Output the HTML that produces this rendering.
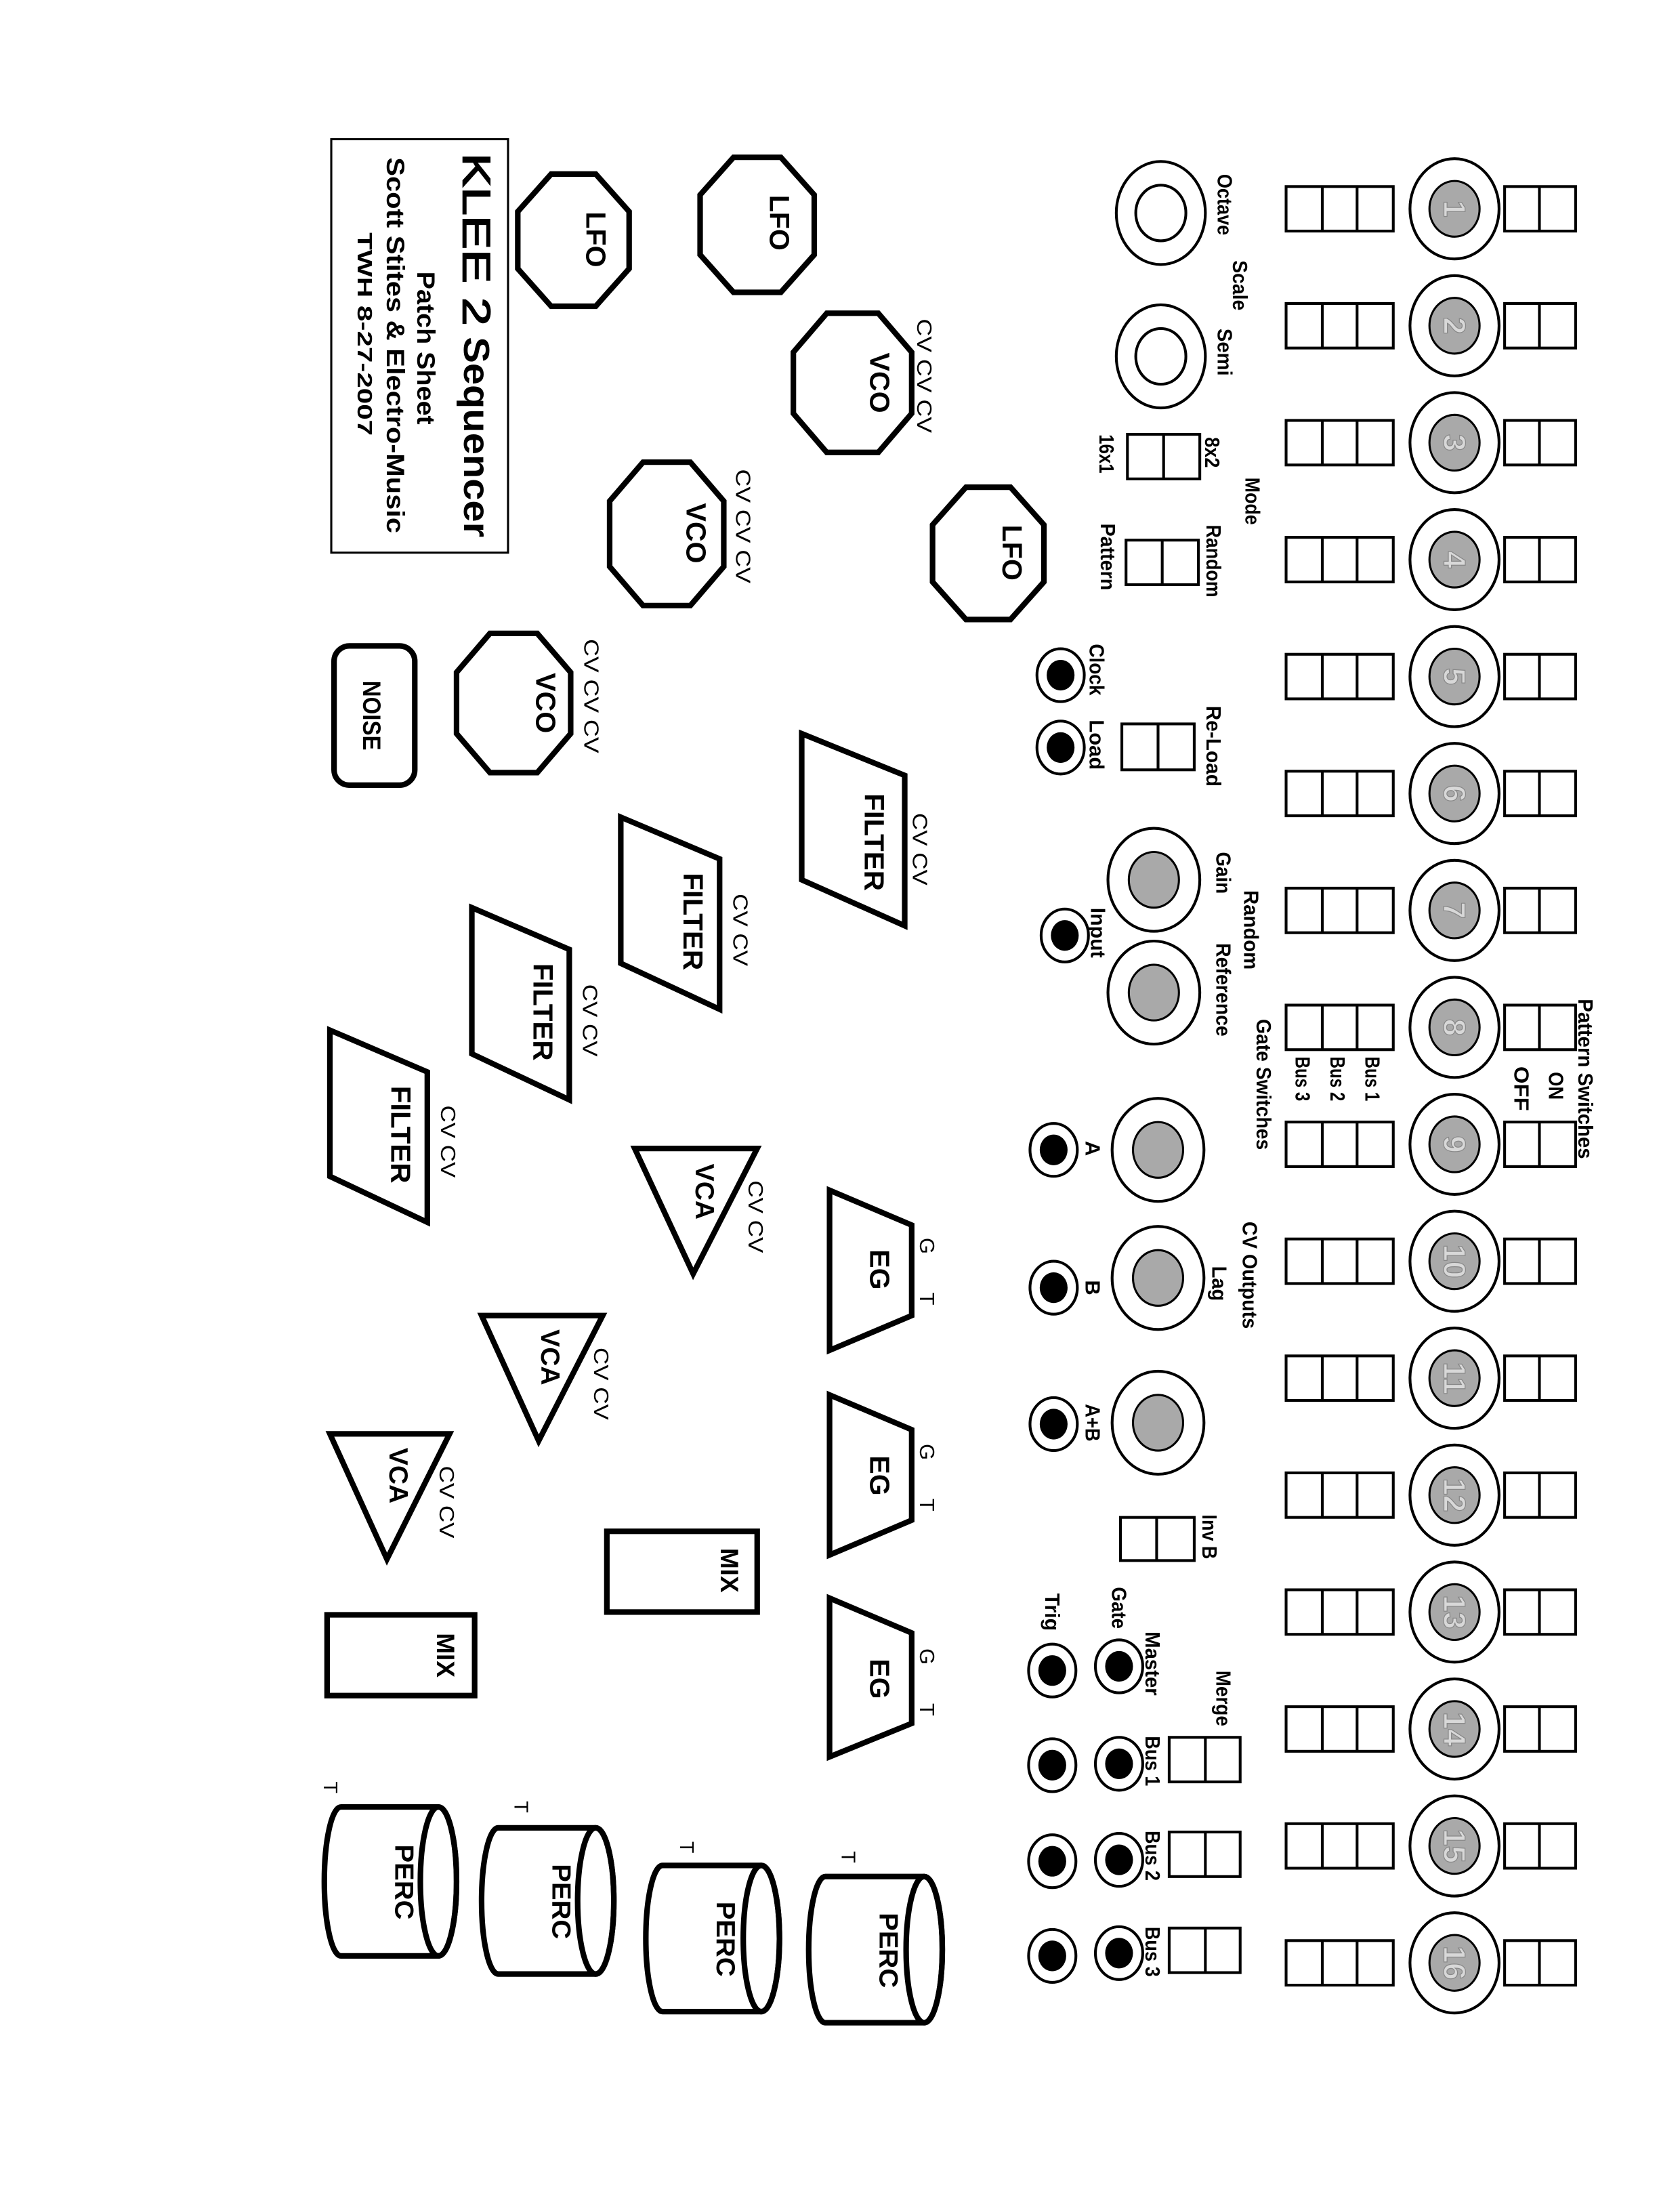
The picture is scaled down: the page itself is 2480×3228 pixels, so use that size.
<!DOCTYPE html>
<html><head><meta charset="utf-8"><style>
html,body{margin:0;padding:0;background:#fff}
svg{display:block}
text{font-family:"Liberation Sans",Arial,sans-serif;font-weight:bold;text-anchor:middle;dominant-baseline:central;fill:#000}
.n{font-weight:normal}
.s{fill:none;stroke:#000;stroke-width:2}
.k{fill:none;stroke:#000;stroke-width:4;stroke-linejoin:miter}
.g{fill:#a9a9a9;stroke:#000;stroke-width:1.5}
.d{fill:#d8d8d8;stroke:#888;stroke-width:0.6;font-size:22px}
</style></head><body>
<svg width="2480" height="3228" viewBox="0 0 1207 1571" preserveAspectRatio="none" xmlns="http://www.w3.org/2000/svg">
<defs>
<g id="row">
<rect x="924" y="-16" width="77" height="32" class="s"/>
<line x1="950" y1="-16" x2="950" y2="16" class="s"/>
<line x1="975" y1="-16" x2="975" y2="16" class="s"/>
<ellipse cx="1045" cy="0" rx="32" ry="36" class="s"/>
<ellipse cx="1045" cy="0" rx="18" ry="20" class="g"/>
<rect x="1081" y="-16" width="51" height="32" class="s"/>
<line x1="1106" y1="-16" x2="1106" y2="16" class="s"/>
</g>
<g id="jack"><ellipse cx="0" cy="0" rx="17" ry="19" class="s"/><ellipse cx="0" cy="0" rx="10" ry="11" fill="#000"/></g>
<g id="knob"><ellipse cx="0" cy="0" rx="33" ry="37" class="s"/><ellipse cx="0" cy="0" rx="18" ry="20" class="g"/></g>
</defs>

<!-- step rows -->
<use href="#row" y="150"/><use href="#row" y="234"/><use href="#row" y="318"/><use href="#row" y="402"/>
<use href="#row" y="486"/><use href="#row" y="570"/><use href="#row" y="654"/><use href="#row" y="738"/>
<use href="#row" y="822"/><use href="#row" y="906"/><use href="#row" y="990"/><use href="#row" y="1074"/>
<use href="#row" y="1158"/><use href="#row" y="1242"/><use href="#row" y="1326"/><use href="#row" y="1410"/>
<text class="d" transform="translate(1045,150) rotate(90)">1</text>
<text class="d" transform="translate(1045,234) rotate(90)">2</text>
<text class="d" transform="translate(1045,318) rotate(90)">3</text>
<text class="d" transform="translate(1045,402) rotate(90)">4</text>
<text class="d" transform="translate(1045,486) rotate(90)">5</text>
<text class="d" transform="translate(1045,570) rotate(90)">6</text>
<text class="d" transform="translate(1045,654) rotate(90)">7</text>
<text class="d" transform="translate(1045,738) rotate(90)">8</text>
<text class="d" transform="translate(1045,822) rotate(90)">9</text>
<text class="d" transform="translate(1045,906) rotate(90)">10</text>
<text class="d" transform="translate(1045,990) rotate(90)">11</text>
<text class="d" transform="translate(1045,1074) rotate(90)">12</text>
<text class="d" transform="translate(1045,1158) rotate(90)">13</text>
<text class="d" transform="translate(1045,1242) rotate(90)">14</text>
<text class="d" transform="translate(1045,1326) rotate(90)">15</text>
<text class="d" transform="translate(1045,1410) rotate(90)">16</text>

<!-- scale knobs -->
<ellipse cx="834" cy="153" rx="32" ry="37" class="s"/><ellipse cx="834" cy="153" rx="18" ry="20" class="s"/>
<ellipse cx="834" cy="256" rx="32" ry="37" class="s"/><ellipse cx="834" cy="256" rx="18" ry="20" class="s"/>
<rect x="810" y="312" width="52" height="32" class="s"/><line x1="836" y1="312" x2="836" y2="344" class="s"/>
<rect x="809" y="388" width="52" height="32" class="s"/><line x1="835" y1="388" x2="835" y2="420" class="s"/>
<rect x="806" y="520" width="52" height="33" class="s"/><line x1="832" y1="520" x2="832" y2="553" class="s"/>
<rect x="805" y="1090" width="53" height="31" class="s"/><line x1="831" y1="1090" x2="831" y2="1121" class="s"/>
<rect x="840" y="1248" width="51" height="32" class="s"/><line x1="866" y1="1248" x2="866" y2="1280" class="s"/>
<rect x="840" y="1316" width="51" height="32" class="s"/><line x1="866" y1="1316" x2="866" y2="1348" class="s"/>
<rect x="840" y="1385" width="51" height="32" class="s"/><line x1="866" y1="1385" x2="866" y2="1417" class="s"/>

<!-- knobs -->
<use href="#knob" x="829" y="632"/><use href="#knob" x="829" y="713"/>
<use href="#knob" x="832" y="826"/><use href="#knob" x="832" y="918"/><use href="#knob" x="832" y="1022"/>

<!-- jacks -->
<use href="#jack" x="762" y="485"/><use href="#jack" x="762" y="537"/><use href="#jack" x="765" y="672"/>
<use href="#jack" x="757" y="826"/><use href="#jack" x="757" y="925"/><use href="#jack" x="757" y="1023"/>
<use href="#jack" x="804" y="1197"/><use href="#jack" x="804" y="1267"/><use href="#jack" x="804" y="1336"/><use href="#jack" x="804" y="1403"/>
<use href="#jack" x="756" y="1200"/><use href="#jack" x="756" y="1268"/><use href="#jack" x="756" y="1337"/><use href="#jack" x="756" y="1405"/>

<!-- panel labels -->
<g font-size="15">
<text transform="translate(880,147) rotate(90)" textLength="44" lengthAdjust="spacingAndGlyphs">Octave</text>
<text transform="translate(891,205) rotate(90)" textLength="36" lengthAdjust="spacingAndGlyphs">Scale</text>
<text transform="translate(880,253) rotate(90)" textLength="34" lengthAdjust="spacingAndGlyphs">Semi</text>
<text transform="translate(871,325) rotate(90)" textLength="22" lengthAdjust="spacingAndGlyphs">8x2</text>
<text transform="translate(795,326) rotate(90)" textLength="28" lengthAdjust="spacingAndGlyphs">16x1</text>
<text transform="translate(900,360) rotate(90)" textLength="34" lengthAdjust="spacingAndGlyphs">Mode</text>
<text transform="translate(872,403) rotate(90)" textLength="52" lengthAdjust="spacingAndGlyphs">Random</text>
<text transform="translate(796,400) rotate(90)" textLength="48" lengthAdjust="spacingAndGlyphs">Pattern</text>
<text transform="translate(788,481) rotate(90)" textLength="37" lengthAdjust="spacingAndGlyphs">Clock</text>
<text transform="translate(788,535) rotate(90)" textLength="36" lengthAdjust="spacingAndGlyphs">Load</text>
<text transform="translate(872,536) rotate(90)" textLength="58" lengthAdjust="spacingAndGlyphs">Re-Load</text>
<text transform="translate(879,627) rotate(90)" textLength="30" lengthAdjust="spacingAndGlyphs">Gain</text>
<text transform="translate(899,668) rotate(90)" textLength="57" lengthAdjust="spacingAndGlyphs">Random</text>
<text transform="translate(879,711) rotate(90)" textLength="67" lengthAdjust="spacingAndGlyphs">Reference</text>
<text transform="translate(789,670) rotate(90)" textLength="36" lengthAdjust="spacingAndGlyphs">Input</text>
<text transform="translate(1139,775) rotate(90)" textLength="115" lengthAdjust="spacingAndGlyphs">Pattern  Switches</text>
<text transform="translate(1118,780) rotate(90)" textLength="20" lengthAdjust="spacingAndGlyphs">ON</text>
<text transform="translate(1093,782) rotate(90)" textLength="32" lengthAdjust="spacingAndGlyphs">OFF</text>
<text transform="translate(908,779) rotate(90)" textLength="94" lengthAdjust="spacingAndGlyphs">Gate Switches</text>
<text transform="translate(986,775) rotate(90)" textLength="32" lengthAdjust="spacingAndGlyphs">Bus 1</text>
<text transform="translate(961,775) rotate(90)" textLength="32" lengthAdjust="spacingAndGlyphs">Bus 2</text>
<text transform="translate(936,775) rotate(90)" textLength="32" lengthAdjust="spacingAndGlyphs">Bus 3</text>
<text transform="translate(785,825) rotate(90)">A</text>
<text transform="translate(898,916) rotate(90)" textLength="77" lengthAdjust="spacingAndGlyphs">CV Outputs</text>
<text transform="translate(876,922) rotate(90)" textLength="25" lengthAdjust="spacingAndGlyphs">Lag</text>
<text transform="translate(785,925) rotate(90)">B</text>
<text transform="translate(785,1022) rotate(90)" textLength="27" lengthAdjust="spacingAndGlyphs">A+B</text>
<text transform="translate(869,1104) rotate(90)" textLength="32" lengthAdjust="spacingAndGlyphs">Inv B</text>
<text transform="translate(804,1155) rotate(90)" textLength="30" lengthAdjust="spacingAndGlyphs">Gate</text>
<text transform="translate(756,1158) rotate(90)" textLength="27" lengthAdjust="spacingAndGlyphs">Trig</text>
<text transform="translate(828,1195) rotate(90)" textLength="46" lengthAdjust="spacingAndGlyphs">Master</text>
<text transform="translate(879,1220) rotate(90)" textLength="40" lengthAdjust="spacingAndGlyphs">Merge</text>
<text transform="translate(828,1265) rotate(90)" textLength="36" lengthAdjust="spacingAndGlyphs">Bus 1</text>
<text transform="translate(828,1333) rotate(90)" textLength="36" lengthAdjust="spacingAndGlyphs">Bus 2</text>
<text transform="translate(828,1402) rotate(90)" textLength="36" lengthAdjust="spacingAndGlyphs">Bus 3</text>
</g>

<!-- title box -->
<rect x="238" y="100" width="127" height="297" fill="none" stroke="#000" stroke-width="1.5"/>
<text class="n" font-size="28" style="text-anchor:start;font-weight:normal" transform="translate(342,110) rotate(90)" textLength="124" lengthAdjust="spacingAndGlyphs" fill="none" stroke="#000" stroke-width="0.8">KLEE 2</text>
<text font-size="26" style="text-anchor:start" transform="translate(342,242) rotate(90)" textLength="144" lengthAdjust="spacingAndGlyphs">Sequencer</text>
<text font-size="18" transform="translate(306,250) rotate(90)" textLength="110" lengthAdjust="spacingAndGlyphs">Patch Sheet</text>
<text font-size="18" transform="translate(284,248) rotate(90)" textLength="270" lengthAdjust="spacingAndGlyphs">Scott Stites &amp; Electro-Music</text>
<text font-size="15" transform="translate(262,240) rotate(90)" textLength="146" lengthAdjust="spacingAndGlyphs">TWH  8-27-2007</text>

<!-- octagons -->
<polygon class="k" points="396,125 428,125 452,152 452,193 428,220 396,220 372,193 372,152"/>
<polygon class="k" points="527,113 561,113 585,140 585,183 561,210 527,210 503,183 503,140"/>
<polygon class="k" points="594,225 631,225 655,253 655,297 631,325 594,325 570,297 570,253"/>
<polygon class="k" points="462,332 496,332 520,360 520,407 496,435 462,435 438,407 438,360"/>
<polygon class="k" points="694,350 726,350 750,377 750,418 726,445 694,445 670,418 670,377"/>
<polygon class="k" points="352,455 386,455 410,483 410,527 386,555 352,555 328,527 328,483"/>
<g font-size="20">
<text transform="translate(428,172) rotate(90)">LFO</text>
<text transform="translate(560,160) rotate(90)">LFO</text>
<text transform="translate(632,275) rotate(90)">VCO</text>
<text transform="translate(500,383) rotate(90)">VCO</text>
<text transform="translate(727,397) rotate(90)">LFO</text>
<text transform="translate(392,505) rotate(90)">VCO</text>
</g>
<g font-size="15" class="n">
<text class="n" transform="translate(664,270) rotate(90)" textLength="82" lengthAdjust="spacingAndGlyphs">CV  CV  CV</text>
<text class="n" transform="translate(534,378) rotate(90)" textLength="82" lengthAdjust="spacingAndGlyphs">CV  CV  CV</text>
<text class="n" transform="translate(425,500) rotate(90)" textLength="82" lengthAdjust="spacingAndGlyphs">CV  CV  CV</text>
</g>

<!-- noise -->
<rect x="240" y="464" width="58" height="100" rx="11" class="k"/>
<text font-size="18" transform="translate(267,514) rotate(90)" textLength="50" lengthAdjust="spacingAndGlyphs">NOISE</text>

<!-- filters -->
<polygon class="k" points="576,527 650,557 650,665 576,632"/>
<polygon class="k" points="446,587 517,617 517,725 446,692"/>
<polygon class="k" points="339,652 409,682 409,790 339,757"/>
<polygon class="k" points="237,740 307,770 307,878 237,845"/>
<g font-size="20">
<text transform="translate(628,605) rotate(90)" textLength="70" lengthAdjust="spacingAndGlyphs">FILTER</text>
<text transform="translate(498,662) rotate(90)" textLength="70" lengthAdjust="spacingAndGlyphs">FILTER</text>
<text transform="translate(390,727) rotate(90)" textLength="70" lengthAdjust="spacingAndGlyphs">FILTER</text>
<text transform="translate(288,815) rotate(90)" textLength="70" lengthAdjust="spacingAndGlyphs">FILTER</text>
</g>
<g font-size="15">
<text class="n" transform="translate(661,610) rotate(90)" textLength="52" lengthAdjust="spacingAndGlyphs">CV  CV</text>
<text class="n" transform="translate(532,668) rotate(90)" textLength="52" lengthAdjust="spacingAndGlyphs">CV  CV</text>
<text class="n" transform="translate(424,733) rotate(90)" textLength="52" lengthAdjust="spacingAndGlyphs">CV  CV</text>
<text class="n" transform="translate(322,820) rotate(90)" textLength="52" lengthAdjust="spacingAndGlyphs">CV  CV</text>
</g>

<!-- VCAs -->
<polygon class="k" points="456,825 544,825 498,915"/>
<polygon class="k" points="346,945 433,945 387,1035"/>
<polygon class="k" points="237,1030 323,1030 278,1120"/>
<g font-size="19">
<text transform="translate(506,856) rotate(90)">VCA</text>
<text transform="translate(395,975) rotate(90)">VCA</text>
<text transform="translate(286,1060) rotate(90)">VCA</text>
</g>
<g font-size="15">
<text class="n" transform="translate(543,874) rotate(90)" textLength="52" lengthAdjust="spacingAndGlyphs">CV  CV</text>
<text class="n" transform="translate(432,994) rotate(90)" textLength="52" lengthAdjust="spacingAndGlyphs">CV  CV</text>
<text class="n" transform="translate(321,1079) rotate(90)" textLength="52" lengthAdjust="spacingAndGlyphs">CV  CV</text>
</g>

<!-- EGs -->
<polygon class="k" points="596,855 655,880 655,945 596,970"/>
<polygon class="k" points="596,1002 655,1027 655,1092 596,1117"/>
<polygon class="k" points="596,1148 655,1173 655,1238 596,1262"/>
<g font-size="20">
<text transform="translate(632,912) rotate(90)">EG</text>
<text transform="translate(632,1060) rotate(90)">EG</text>
<text transform="translate(632,1206) rotate(90)">EG</text>
</g>
<g font-size="15">
<text class="n" transform="translate(666,895) rotate(90)">G</text><text class="n" transform="translate(666,933) rotate(90)">T</text>
<text class="n" transform="translate(666,1043) rotate(90)">G</text><text class="n" transform="translate(666,1081) rotate(90)">T</text>
<text class="n" transform="translate(666,1190) rotate(90)">G</text><text class="n" transform="translate(666,1228) rotate(90)">T</text>
</g>

<!-- MIX -->
<rect x="436" y="1100" width="108" height="58" class="k"/>
<rect x="235" y="1160" width="106" height="58" class="k"/>
<text font-size="18" transform="translate(524,1128) rotate(90)">MIX</text>
<text font-size="18" transform="translate(320,1189) rotate(90)">MIX</text>

<!-- PERC -->
<path class="k" d="M245 1298 L315 1298 A13 53.5 0 0 1 315 1405 L245 1405 A12 53.5 0 0 1 245 1298 Z"/><ellipse cx="315" cy="1351.5" rx="13" ry="53.5" class="k"/>
<path class="k" d="M358 1313 L428 1313 A13 52.5 0 0 1 428 1418 L358 1418 A12 52.5 0 0 1 358 1313 Z"/><ellipse cx="428" cy="1365.5" rx="13" ry="52.5" class="k"/>
<path class="k" d="M476 1340 L547 1340 A13 52.5 0 0 1 547 1445 L476 1445 A12 52.5 0 0 1 476 1340 Z"/><ellipse cx="547" cy="1392.5" rx="13" ry="52.5" class="k"/>
<path class="k" d="M593 1348 L664 1348 A13 52.5 0 0 1 664 1453 L593 1453 A12 52.5 0 0 1 593 1348 Z"/><ellipse cx="664" cy="1400.5" rx="13" ry="52.5" class="k"/>
<g font-size="19">
<text transform="translate(290,1352) rotate(90)" textLength="54" lengthAdjust="spacingAndGlyphs">PERC</text>
<text transform="translate(403,1366) rotate(90)" textLength="54" lengthAdjust="spacingAndGlyphs">PERC</text>
<text transform="translate(521,1393) rotate(90)" textLength="54" lengthAdjust="spacingAndGlyphs">PERC</text>
<text transform="translate(638,1401) rotate(90)" textLength="54" lengthAdjust="spacingAndGlyphs">PERC</text>
</g>
<g font-size="14">
<text class="n" transform="translate(237,1284) rotate(90)">T</text>
<text class="n" transform="translate(374,1298) rotate(90)">T</text>
<text class="n" transform="translate(493,1327) rotate(90)">T</text>
<text class="n" transform="translate(609,1334) rotate(90)">T</text>
</g>
</svg>
</body></html>
